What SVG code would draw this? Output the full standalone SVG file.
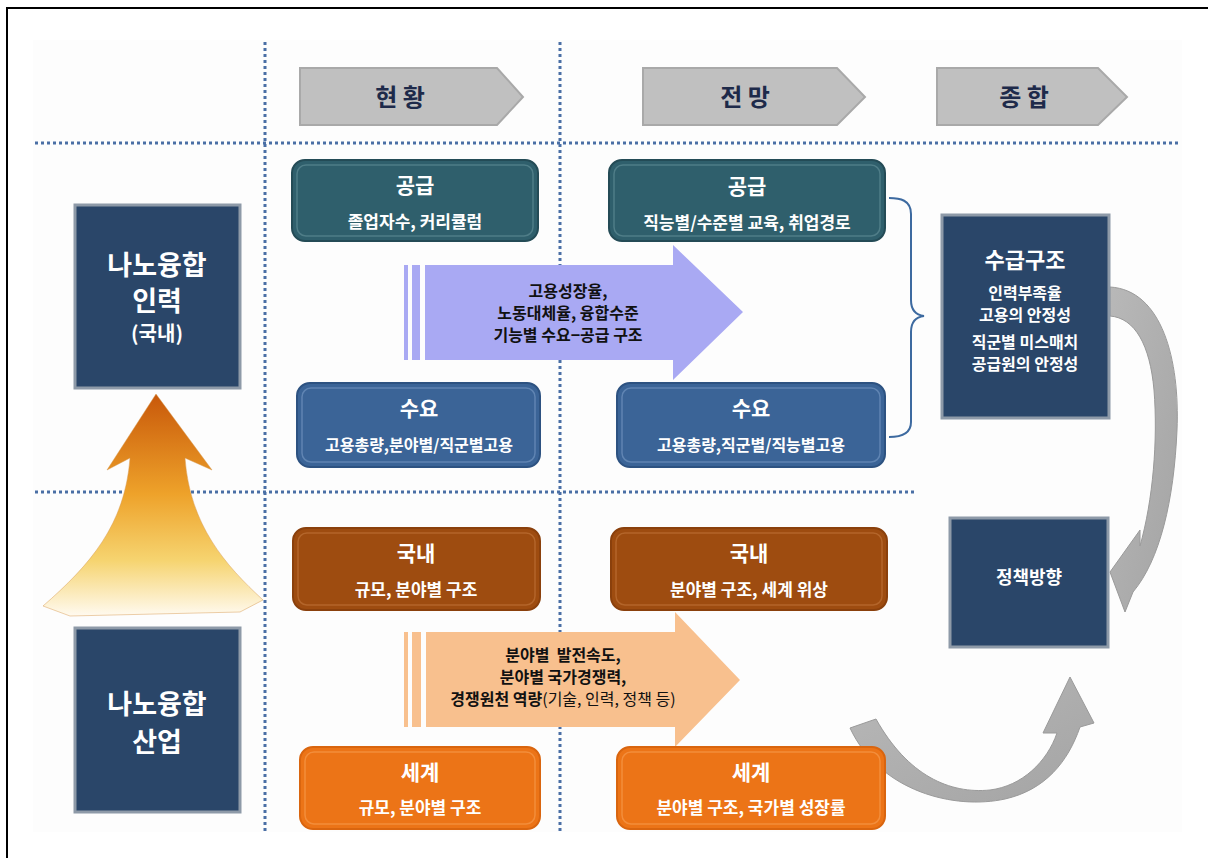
<svg xmlns="http://www.w3.org/2000/svg" width="1208" height="858" viewBox="0 0 1208 858">
<defs>
<style>
.t{font-family:"Noto Sans CJK KR","Noto Sans",sans-serif;font-weight:bold;text-anchor:middle}
.w{fill:#ffffff}
.k{fill:#111111}
.hd{fill:#1e2a4a;font-size:24px}
.dot{stroke:#4a6fa5;stroke-width:3;stroke-dasharray:3 3;fill:none}
.teal{fill:#2f5f6c;stroke:#244b56;stroke-width:2}
.blue{fill:#3b6497;stroke:#2d5281;stroke-width:2}
.brown{fill:#9e4c10;stroke:#8a400c;stroke-width:2}
.orange{fill:#ec7417;stroke:#d9650f;stroke-width:2}
.inner{fill:none;stroke-width:1.5;stroke-opacity:0.55}
.navy{fill:#2a4669;stroke:#8e9aa8;stroke-width:3}
.pent{fill:#c0c0c0;stroke:#a9a9a9;stroke-width:2}
.gray{fill:url(#gg);stroke:#9a9a9a;stroke-width:1}
</style>
<linearGradient id="up" x1="0" y1="0" x2="0" y2="1">
<stop offset="0" stop-color="#c8580a"/>
<stop offset="0.45" stop-color="#eea22a"/>
<stop offset="0.75" stop-color="#f6d470"/>
<stop offset="1" stop-color="#fffaf0"/>
</linearGradient>
<linearGradient id="gg" x1="0" y1="0" x2="1" y2="1">
<stop offset="0" stop-color="#b8b8b8"/>
<stop offset="1" stop-color="#a4a4a4"/>
</linearGradient>
</defs>

<rect x="7" y="8" width="1300" height="900" fill="#ffffff" stroke="#000000" stroke-width="2"/>
<rect x="33" y="40" width="1149" height="792" fill="#fdfdfd"/>

<g id="grid">
<line class="dot" x1="35" y1="143" x2="1180" y2="143"/>
<line class="dot" x1="35" y1="492" x2="915" y2="492"/>
<line class="dot" x1="265" y1="42" x2="265" y2="832"/>
<line class="dot" x1="560" y1="42" x2="560" y2="832"/>
</g>

<g id="header-hyeonhwang">
<path class="pent" d="M300,68 H497 L523,97 L497,125 H300 Z"/>
<text class="t hd" x="400" y="106">현 황</text>
</g>
<g id="header-jeonmang">
<path class="pent" d="M643,68 H837 L865,97 L837,125 H643 Z"/>
<text class="t hd" x="745" y="106">전 망</text>
</g>
<g id="header-jonghap">
<path class="pent" d="M937,68 H1098 L1127,97 L1098,125 H937 Z"/>
<text class="t hd" x="1024" y="106">종 합</text>
</g>

<g id="connectors">
<path d="M43,606 C90,565 125,525 130,458 L107,470 L156,394 L212,470 L185,458 C190,525 225,565 263,600 L240,612 L70,616 Z" fill="url(#up)" stroke="#d89a50" stroke-width="0.8" stroke-opacity="0.6"/>
<path class="gray" d="M1110,287 C1162,290 1180,360 1177,430 C1174,500 1160,560 1133,592 L1125,612 L1110,572 L1140,530 L1140,546 C1153,500 1158,440 1154,390 C1150,345 1135,318 1110,316 Z"/>
<path class="gray" d="M850,728 C880,792 955,810 1005,799 C1045,790 1068,762 1080,727 L1094,723 L1070,677 L1043,733 L1057,733 C1047,762 1022,786 990,790 C950,794 908,776 876,719 Z"/>
<path d="M889,198 C900,198 911,200 911,214 V300 C911,310 916,315 924,316 C916,317 911,322 911,332 V422 C911,434 900,437 889,437" fill="none" stroke="#3d6aa0" stroke-width="2"/>
</g>

<g id="arrow-purple">
<rect x="404" y="265" width="4" height="95" fill="#a9a9f3"/>
<rect x="412" y="265" width="8" height="95" fill="#a9a9f3"/>
<path d="M425,265 H673 V245 L743,312 L673,380 V360 H425 Z" fill="#a9a9f3"/>
<text class="t k" font-size="16" x="568" y="297">고용성장율,</text>
<text class="t k" font-size="16" x="568" y="319">노동대체율, 융합수준</text>
<text class="t k" font-size="16" x="568" y="341">기능별 수요−공급 구조</text>
</g>

<g id="arrow-peach">
<rect x="404" y="632" width="4" height="95" fill="#f8c08e"/>
<rect x="412" y="632" width="9" height="95" fill="#f8c08e"/>
<path d="M426,632 H675 V612 L740,680 L675,747 V727 H426 Z" fill="#f8c08e"/>
<text class="t k" font-size="16" x="563" y="661" xml:space="preserve">분야별  발전속도,</text>
<text class="t k" font-size="16" x="563" y="683">분야별 국가경쟁력,</text>
<text class="t k" font-size="16" x="563" y="705">경쟁원천 역량<tspan font-weight="normal">(기술, 인력, 정책 등)</tspan></text>
</g>

<g id="node-manpower">
<rect class="navy" x="75" y="205" width="165" height="183"/>
<text class="t w" font-size="27" x="157" y="275">나노융합</text>
<text class="t w" font-size="27" x="157" y="311">인력</text>
<text class="t w" font-size="20" x="157" y="341">(국내)</text>
</g>
<g id="node-industry">
<rect class="navy" x="75" y="628" width="165" height="184"/>
<text class="t w" font-size="27" x="157" y="714">나노융합</text>
<text class="t w" font-size="27" x="157" y="752">산업</text>
</g>

<g id="node-supply-now">
<rect class="teal" x="292" y="160" width="246" height="81" rx="13"/>
<rect class="inner" stroke="#6a959f" x="297" y="165" width="236" height="71" rx="9"/>
<text class="t w" font-size="21" x="415" y="193">공급</text>
<text class="t w" font-size="17" x="415" y="228">졸업자수, 커리큘럼</text>
</g>
<g id="node-supply-future">
<rect class="teal" x="609" y="160" width="276" height="81" rx="13"/>
<rect class="inner" stroke="#6a959f" x="614" y="165" width="266" height="71" rx="9"/>
<text class="t w" font-size="21" x="747" y="194">공급</text>
<text class="t w" font-size="17" x="747" y="229">직능별/수준별 교육, 취업경로</text>
</g>
<g id="node-demand-now">
<rect class="blue" x="297" y="383" width="243" height="84" rx="13"/>
<rect class="inner" stroke="#7d9ec8" x="302" y="388" width="233" height="74" rx="9"/>
<text class="t w" font-size="21" x="419" y="416">수요</text>
<text class="t w" font-size="16" x="419" y="451">고용총량,분야별/직군별고용</text>
</g>
<g id="node-demand-future">
<rect class="blue" x="617" y="383" width="268" height="84" rx="13"/>
<rect class="inner" stroke="#7d9ec8" x="622" y="388" width="258" height="74" rx="9"/>
<text class="t w" font-size="21" x="751" y="416">수요</text>
<text class="t w" font-size="16" x="751" y="451">고용총량,직군별/직능별고용</text>
</g>

<g id="node-domestic-now">
<rect class="brown" x="293" y="528" width="247" height="82" rx="13"/>
<rect class="inner" stroke="#c47a40" x="298" y="533" width="237" height="72" rx="9"/>
<text class="t w" font-size="21" x="416" y="561">국내</text>
<text class="t w" font-size="17" x="416" y="596">규모, 분야별 구조</text>
</g>
<g id="node-domestic-future">
<rect class="brown" x="611" y="528" width="276" height="82" rx="13"/>
<rect class="inner" stroke="#c47a40" x="616" y="533" width="266" height="72" rx="9"/>
<text class="t w" font-size="21" x="749" y="561">국내</text>
<text class="t w" font-size="17" x="749" y="596">분야별 구조, 세계 위상</text>
</g>
<g id="node-world-now">
<rect class="orange" x="300" y="747" width="240" height="82" rx="13"/>
<rect class="inner" stroke="#f7a25a" x="305" y="752" width="230" height="72" rx="9"/>
<text class="t w" font-size="21" x="420" y="780">세계</text>
<text class="t w" font-size="17" x="420" y="814">규모, 분야별 구조</text>
</g>
<g id="node-world-future">
<rect class="orange" x="617" y="747" width="268" height="82" rx="13"/>
<rect class="inner" stroke="#f7a25a" x="622" y="752" width="258" height="72" rx="9"/>
<text class="t w" font-size="21" x="751" y="780">세계</text>
<text class="t w" font-size="17" x="751" y="814">분야별 구조, 국가별 성장률</text>
</g>

<g id="node-structure">
<rect class="navy" x="942" y="215" width="167" height="203"/>
<text class="t w" font-size="22" x="1025" y="268">수급구조</text>
<text class="t w" font-size="16" x="1025" y="299">인력부족율</text>
<text class="t w" font-size="16" x="1025" y="321">고용의 안정성</text>
<text class="t w" font-size="16" x="1025" y="348">직군별 미스매치</text>
<text class="t w" font-size="16" x="1025" y="370">공급원의 안정성</text>
</g>
<g id="node-policy">
<rect class="navy" x="950" y="518" width="158" height="129"/>
<text class="t w" font-size="18" x="1029" y="584">정책방향</text>
</g>
</svg>
